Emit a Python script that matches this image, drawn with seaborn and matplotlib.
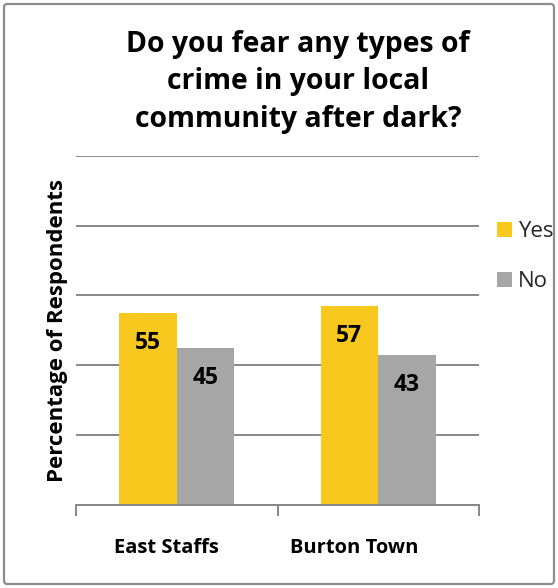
import matplotlib
matplotlib.use("Agg")
import matplotlib.pyplot as plt
import matplotlib.transforms as mtransforms
from matplotlib.patches import FancyBboxPatch
import seaborn as sns
import pandas as pd

# Survey results (percent of respondents)
areas = ["East Staffs", "Burton Town"]
responses = ["Yes", "No"]
yes_values = [55, 57]
no_values = [45, 43]
colors = {"Yes": "#F9C81E", "No": "#A6A6A6"}

title = "Do you fear any types of\ncrime in your local\ncommunity after dark?"
ylabel = "Percentage of Respondents"

df = pd.DataFrame({
    "Area": areas * 2,
    "Response": ["Yes"] * len(areas) + ["No"] * len(areas),
    "Percent": yes_values + no_values,
})

sns.set_theme(style="white")
plt.rcParams["font.family"] = ["Open Sans", "DejaVu Sans"]

W, H = 558, 588
fig = plt.figure(figsize=(W / 100, H / 100), dpi=100)
fig.patch.set_facecolor("white")

# outer chart frame
frame = FancyBboxPatch((4 / W, 4 / H), (W - 8) / W, (H - 8) / H,
                       boxstyle="round,pad=0,rounding_size=0.006",
                       transform=fig.transFigure, facecolor="none",
                       edgecolor="#8C8C8C", linewidth=1.6)
fig.patches.append(frame)

ax = fig.add_axes([76 / W, (H - 504.5) / H, (479 - 76) / W, (504.5 - 156) / H])

sns.barplot(data=df, x="Area", y="Percent", hue="Response",
            hue_order=responses, order=areas, palette=colors,
            width=2 / 3.5, gap=0, saturation=1, ax=ax,
            edgecolor="none", linewidth=0, errorbar=None, legend=True)

ax.set_ylim(0, 100)
ax.set_xlim(-0.5, 1.5)
ax.set_yticks([0, 20, 40, 60, 80, 100])
ax.set_yticklabels([])
ax.tick_params(axis="y", length=0)
ax.yaxis.grid(True, color="#878787", linewidth=1.4)
ax.set_axisbelow(True)
for s in ["top", "right", "left"]:
    ax.spines[s].set_visible(False)
ax.spines["bottom"].set_color("#878787")
ax.spines["bottom"].set_linewidth(1.4)

# category boundary ticks
ax.set_xticks([-0.5, 0.5, 1.5])
ax.set_xticklabels([])
ax.tick_params(axis="x", direction="out", length=8, width=1.4, color="#878787", bottom=True)
ax.set_xlabel("")
ax.set_ylabel("")

# rotated axis title
fig.text(57 / W, (H - 331) / H, ylabel, rotation=90, ha="center", va="center",
         fontsize=16, fontweight="bold", color="black")

# category names under the axis
label_offsets = [-10, -24]
for i, (name, dx) in enumerate(zip(areas, label_offsets)):
    tr = ax.get_xaxis_transform() + mtransforms.ScaledTranslation(dx / 100, 0, fig.dpi_scale_trans)
    ax.text(i, -0.125, name, transform=tr, ha="center", va="center",
            fontsize=14.5, fontweight="bold", color="black")

# value labels just inside the top of each bar
for container in ax.containers:
    for patch in container.patches:
        h = patch.get_height()
        ax.annotate(f"{h:.0f}", (patch.get_x() + patch.get_width() / 2, h),
                    xytext=(0, -30 * 72 / 100), textcoords="offset points",
                    ha="center", va="center", fontsize=16.5, fontweight="bold",
                    color="black")

# legend on the right
handles, labels = ax.get_legend_handles_labels()
ax.get_legend().remove()
leg = fig.legend(handles, labels, loc="center left",
                 bbox_to_anchor=(497 / W, (H - 256.5) / H), frameon=False,
                 borderpad=0, borderaxespad=0,
                 fontsize=16, handlelength=0.68, handleheight=0.68,
                 handletextpad=0.27, labelspacing=1.3)

fig.text(298 / W, (H - 82) / H, title, ha="center", va="center",
         fontsize=20.4, fontweight="bold", linespacing=1.37, color="black")

fig.savefig("out.png", dpi=100, facecolor="white")
